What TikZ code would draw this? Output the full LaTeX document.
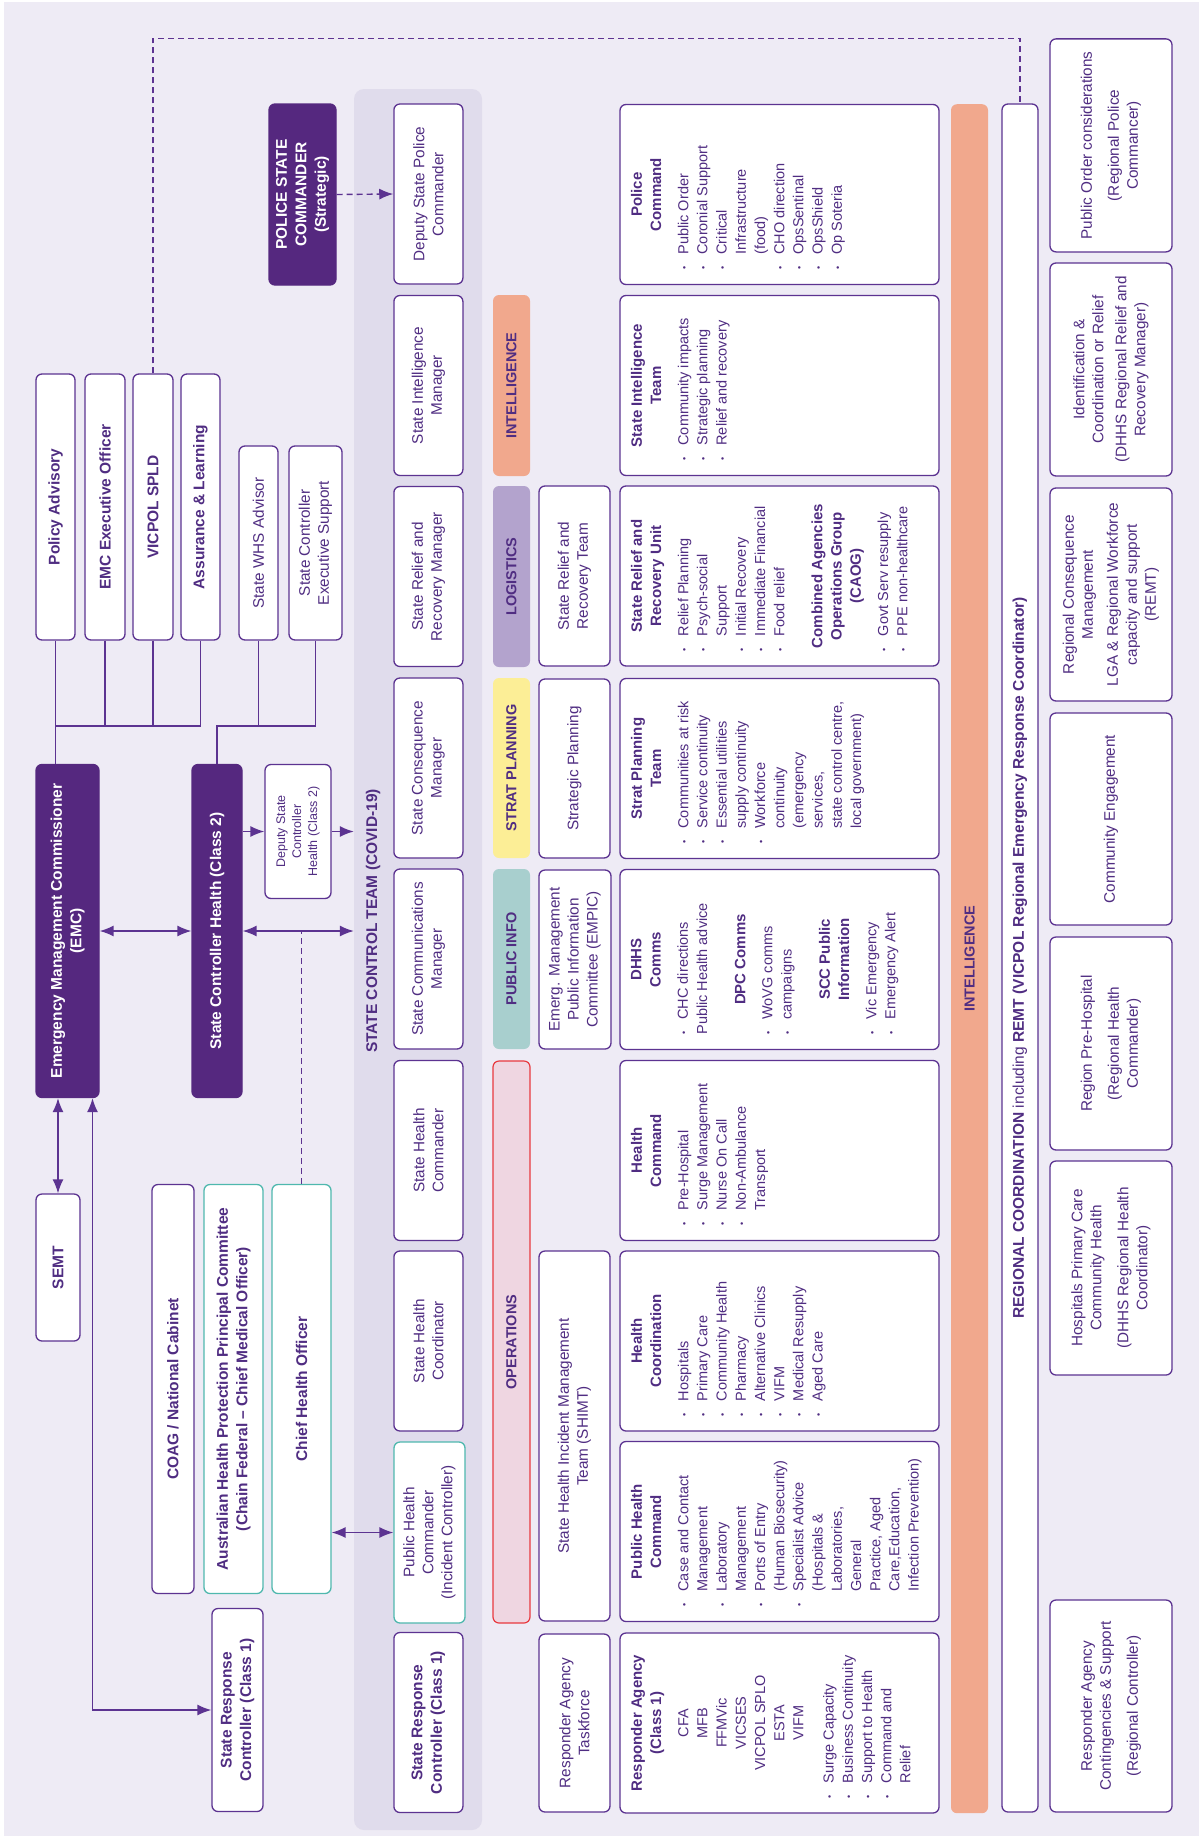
\documentclass[tikz,border=0pt]{standalone}
\usepackage{fontspec}
\setmainfont{Liberation Sans}
\usetikzlibrary{arrows.meta}

\definecolor{bgc}{HTML}{EEEBF5}
\definecolor{panelc}{HTML}{E0DCEC}
\definecolor{darkc}{HTML}{55287F}
\definecolor{bordc}{HTML}{5C3391}
\definecolor{txtc}{HTML}{502D82}
\definecolor{tealc}{HTML}{4FB8AE}
\definecolor{salmonc}{HTML}{F1A88D}
\definecolor{lilacc}{HTML}{B3A3CD}
\definecolor{yellowc}{HTML}{FCEE96}
\definecolor{infoc}{HTML}{A8CFCE}
\definecolor{pinkc}{HTML}{EFD6E1}
\definecolor{redc}{HTML}{E8393F}

\newcommand{\lblfont}{\fontsize{15.3}{19}\selectfont}
\newcommand{\lblbold}{\fontsize{15.5}{19.5}\selectfont\bfseries}
\newcommand{\barfont}{\fontsize{14.5}{18}\selectfont\bfseries}
\newcommand{\detfont}{\fontsize{14.5}{19.2}\selectfont}
\newcommand{\smallfont}{\fontsize{12.5}{16}\selectfont}
\newcommand{\dpanel}[1]{\parbox[c][297pt][t]{150pt}{#1}}
\newcommand{\dhead}[1]{{\centering\bfseries\fontsize{15}{19.2}\selectfont #1\par}\vspace{8pt}}
\newcommand{\bitem}{\par\noindent\hangindent=15pt\hangafter=1%
  \makebox[15pt][l]{\raisebox{1pt}{\fontsize{9}{9}\selectfont\textbullet}}}

\begin{document}
\begin{tikzpicture}[x=1pt,y=-1pt,
  >={Latex[length=14pt,width=11pt]},
  card/.style={draw=bordc,line width=1.3pt,rounded corners=6pt,fill=white,
    text=txtc,rotate=90,align=center,inner sep=0pt,font=\lblfont},
  cardb/.style={card,font=\lblbold},
  dark/.style={card,fill=darkc,draw=darkc,text=white,font=\lblbold},
  bar/.style={rotate=90,rounded corners=6pt,inner sep=0pt,text=txtc,
    font=\barfont,minimum height=37pt},
  detail/.style={draw=bordc,line width=1.3pt,rounded corners=6pt,fill=white,
    text=txtc,rotate=90,inner xsep=15pt,inner ysep=11pt,font=\detfont},
  conn/.style={draw=bordc,line width=1.4pt},
  dashline/.style={conn,dash pattern=on 6pt off 4pt}]

  \useasboundingbox (0,0) rectangle (1199,1836);
  \path[fill=bgc] (4,2) rectangle (1199,1836);

  % left side: commissioner and advisors
  \node[cardb,minimum width=266pt,minimum height=39pt] (policyadv) at (55.5,507) {Policy Advisory};
  \node[cardb,minimum width=266pt,minimum height=40pt] (emcexec) at (105,507) {EMC Executive Officer};
  \node[cardb,minimum width=266pt,minimum height=40pt] (vicpol) at (153,507) {VICPOL SPLD};
  \node[cardb,minimum width=266pt,minimum height=39pt] (assurance) at (200.5,507) {Assurance \& Learning};
  \node[card,minimum width=194pt,minimum height=39pt] (whsadv) at (258.5,543) {State WHS Advisor};
  \node[card,minimum width=194pt,minimum height=53pt] (ctrlsupport) at (315.5,543) {State Controller\\Executive Support};
  \node[dark,minimum width=181pt,minimum height=67pt] (policecmdr) at (302.5,194.5) {POLICE STATE\\COMMANDER\\(Strategic)};

  \node[dark,minimum width=333pt,minimum height=63pt] (emc) at (67.5,931) {Emergency Management Commissioner\\(EMC)};
  \node[dark,minimum width=333pt,minimum height=50pt] (sch) at (217,931) {State Controller Health (Class 2)};
  \node[card,font=\smallfont,minimum width=134pt,minimum height=66pt] (deputysch) at (298,831.5) {Deputy State\\Controller\\Health (Class 2)};

  \node[cardb,minimum width=147pt,minimum height=44pt] (semt) at (58,1267.5) {SEMT};
  \node[cardb,minimum width=409pt,minimum height=42pt] (coag) at (173,1389) {COAG / National Cabinet};
  \node[cardb,draw=tealc,minimum width=409pt,minimum height=59pt] (ahppc) at (233.5,1389) {Australian Health Protection Principal Committee\\(Chain Federal -- Chief Medical Officer)};
  \node[cardb,draw=tealc,minimum width=409pt,minimum height=59pt] (cho) at (301.5,1389) {Chief Health Officer};
  \node[cardb,minimum width=203pt,minimum height=51pt] (srcleft) at (237.5,1710) {State Response\\Controller (Class 1)};

  % state control team
  \node[fill=panelc,rounded corners=10pt,rotate=90,inner sep=0pt,minimum width=1741pt,minimum height=128pt] (sctpanel) at (418,959.5) {};
  \node[rotate=90,text=txtc,font=\lblbold] (sctitle) at (373,921) {STATE CONTROL TEAM (COVID-19)};

  \node[card,minimum width=180pt,minimum height=69pt] (dspc) at (428.4,194) {Deputy State Police\\Commander};
  \node[card,minimum width=180pt,minimum height=69pt] (simgr) at (428.4,385.5) {State Intelligence\\Manager};
  \node[card,minimum width=180pt,minimum height=69pt] (srrmgr) at (428.4,576.5) {State Relief and\\Recovery Manager};
  \node[card,minimum width=180pt,minimum height=69pt] (scmgr) at (428.4,768) {State Consequence\\Manager};
  \node[card,minimum width=180pt,minimum height=69pt] (scommgr) at (428.4,959) {State Communications\\Manager};
  \node[card,minimum width=180pt,minimum height=69pt] (shcmdr) at (428.4,1150.5) {State Health\\Commander};
  \node[card,minimum width=180pt,minimum height=69pt] (shcoord) at (428.4,1341) {State Health\\Coordinator};
  \node[card,draw=tealc,minimum width=181pt,minimum height=71pt] (phcmdr) at (429.5,1532.5) {Public Health\\Commander\\(Incident Controller)};
  \node[cardb,minimum width=180pt,minimum height=69pt] (srcteam) at (428.4,1722.5) {State Response\\Controller (Class 1)};

  % function bars
  \node[bar,fill=salmonc,minimum width=181pt] (barintel) at (511.5,385.5) {INTELLIGENCE};
  \node[bar,fill=lilacc,minimum width=181pt] (barlog) at (511.5,576.5) {LOGISTICS};
  \node[bar,fill=yellowc,minimum width=180pt] (barstrat) at (511.5,768) {STRAT PLANNING};
  \node[bar,fill=infoc,minimum width=180pt] (barinfo) at (511.5,959) {PUBLIC INFO};
  \node[bar,fill=pinkc,draw=redc,line width=1.2pt,minimum width=562pt] (barops) at (511.5,1342) {OPERATIONS};

  % teams
  \node[card,minimum width=180pt,minimum height=71pt] (srrteam) at (574.5,576) {State Relief and\\Recovery Team};
  \node[card,minimum width=179pt,minimum height=71pt] (stratplan) at (574.5,768.5) {Strategic Planning};
  \node[card,minimum width=179pt,minimum height=72pt] (empic) at (575,959.5) {Emerg. Management\\Public Information\\Committee (EMPIC)};
  \node[card,minimum width=370pt,minimum height=71pt] (shimt) at (574.5,1436) {State Health Incident Management\\Team (SHIMT)};
  \node[card,minimum width=178pt,minimum height=71pt] (ratask) at (574.5,1723) {Responder Agency\\Taskforce};

  % team details
  \node[detail] (polcmd) at (779.5,194.5) {\dpanel{\dhead{Police\\Command}
    \bitem Public Order
    \bitem Coronial Support
    \bitem Critical\\Infrastructure\\(food)
    \bitem CHO direction
    \bitem OpsSentinal
    \bitem OpsShield
    \bitem Op Soteria}};
  \node[detail] (intelteam) at (779.5,385.5) {\dpanel{\dhead{State Intelligence\\Team}
    \bitem Community impacts
    \bitem Strategic planning
    \bitem Relief and recovery}};
  \node[detail] (reliefunit) at (779.5,576) {\dpanel{\dhead{State Relief and\\Recovery Unit}
    \bitem Relief Planning
    \bitem Psych-social\\Support
    \bitem Initial Recovery
    \bitem Immediate Financial
    \bitem Food relief
    \par\vspace{19pt}
    \dhead{Combined Agencies\\Operations Group\\(CAOG)}
    \bitem Govt Serv resupply
    \bitem PPE non-healthcare}};
  \node[detail] (strateam) at (779.5,768.5) {\dpanel{\dhead{Strat Planning\\Team}
    \bitem Communities at risk
    \bitem Service continuity
    \bitem Essential utilities\\supply continuity
    \bitem Workforce\\continuity\\(emergency\\services,\\state control centre,\\local government)}};
  \node[detail] (dhhscomms) at (779.5,959.5) {\dpanel{\dhead{DHHS\\Comms}
    \bitem CHC directions
    \par\noindent Public Health advice
    \par\vspace{19pt}
    \dhead{DPC Comms}
    \bitem WoVG comms
    \bitem campaigns
    \par\vspace{19pt}
    \dhead{SCC Public\\Information}
    \bitem Vic Emergency
    \bitem Emergency Alert}};
  \node[detail] (healthcmd) at (779.5,1150.5) {\dpanel{\dhead{Health\\Command}
    \bitem Pre-Hospital
    \bitem Surge Management
    \bitem Nurse On Call
    \bitem Non-Ambulance\\Transport}};
  \node[detail] (healthcoord) at (779.5,1341) {\dpanel{\dhead{Health\\Coordination}
    \bitem Hospitals
    \bitem Primary Care
    \bitem Community Health
    \bitem Pharmacy
    \bitem Alternative Clinics
    \bitem VIFM
    \bitem Medical Resupply
    \bitem Aged Care}};
  \node[detail] (pubhealthcmd) at (779.5,1531.5) {\dpanel{\dhead{Public Health\\Command}
    \bitem Case and Contact\\Management
    \bitem Laboratory\\Management
    \bitem Ports of Entry\\(Human Biosecurity)
    \bitem Specialist Advice\\(Hospitals \&\\Laboratories,\\General\\Practice, Aged\\Care,Education,\\Infection Prevention)}};
  \node[detail] (respagency) at (779.5,1723) {\dpanel{\dhead{Responder Agency\\(Class 1)}
    {\centering CFA\\MFB\\FFMVic\\VICSES\\VICPOL SPLO\\ESTA\\VIFM\par}
    \vspace{11pt}
    \bitem Surge Capacity
    \bitem Business Continuity
    \bitem Support to Health
    \bitem Command and\\Relief}};

  % regional coordination
  \node[bar,fill=salmonc,minimum width=1709pt] (intelbar) at (969.5,958.7) {INTELLIGENCE};
  \node[card,font=\fontsize{15.5}{19}\selectfont,minimum width=1708pt,minimum height=36pt] (regbar) at (1020,958) {\textbf{REGIONAL COORDINATION} including \textbf{REMT (VICPOL Regional Emergency Response Coordinator)}};

  \node[card,minimum width=213pt,minimum height=122pt] (regpolice) at (1111,145.4) {Public Order considerations\\[8pt](Regional Police\\Commancer)};
  \node[card,minimum width=213pt,minimum height=122pt] (regrelief) at (1111,369.5) {Identification \&\\Coordination or Relief\\[4pt](DHHS Regional Relief and\\Recovery Manager)};
  \node[card,minimum width=213pt,minimum height=122pt] (regconseq) at (1111,594.5) {Regional Consequence\\Management\\[6pt]LGA \& Regional Workforce\\capacity and support\\(REMT)};
  \node[card,minimum width=212pt,minimum height=122pt] (regcommunity) at (1111,819) {Community Engagement};
  \node[card,minimum width=213pt,minimum height=122pt] (regprehosp) at (1111,1043.5) {Region Pre-Hospital\\[8pt](Regional Health\\Commander)};
  \node[card,minimum width=214pt,minimum height=122pt] (reghospitals) at (1111,1268) {Hospitals Primary Care\\Community Health\\[8pt](DHHS Regional Health\\Coordinator)};
  \node[card,minimum width=212pt,minimum height=122pt] (regresponder) at (1111,1706) {Responder Agency\\Contingencies \& Support\\[8pt](Regional Controller)};

  % connectors
  \coordinate (bus) at (0,726);
  \draw[conn] (policyadv.west) -- (policyadv.west |- emc.east);
  \draw[conn] (assurance.west) |- (policyadv.west |- bus);
  \draw[conn] (emcexec.west) -- (emcexec.west |- bus);
  \draw[conn] (vicpol.west) -- (vicpol.west |- bus);
  \draw[conn] (ctrlsupport.west) |- (sch.east |- bus) -- (sch.east);
  \draw[conn] (whsadv.west) -- (whsadv.west |- bus);

  \draw[dashline,->] (policecmdr.south) -- (dspc.north);
  \draw[dashline] (vicpol.east) |- ([yshift=65pt]regbar.east) -- (regbar.east);

  \draw[conn,->] (sch.south |- deputysch.north) -- (deputysch.north);
  \draw[conn,->] (deputysch.south) -- (deputysch.south -| sctpanel.north);
  \draw[conn,<->] (emc.south) -- (sch.north);
  \draw[conn,<->] (sch.south) -- (sch.south -| sctpanel.north);
  \draw[dashline] (cho.east) -- (cho.east |- sch.south);

  \draw[conn,<->] (emc.west -| semt.east) -- (semt.east);
  \draw[conn,<->] (srcleft.north) -| ([xshift=25pt]emc.west);
  \draw[conn,<->] (cho.south |- phcmdr.north) -- (phcmdr.north);
\end{tikzpicture}
\end{document}
